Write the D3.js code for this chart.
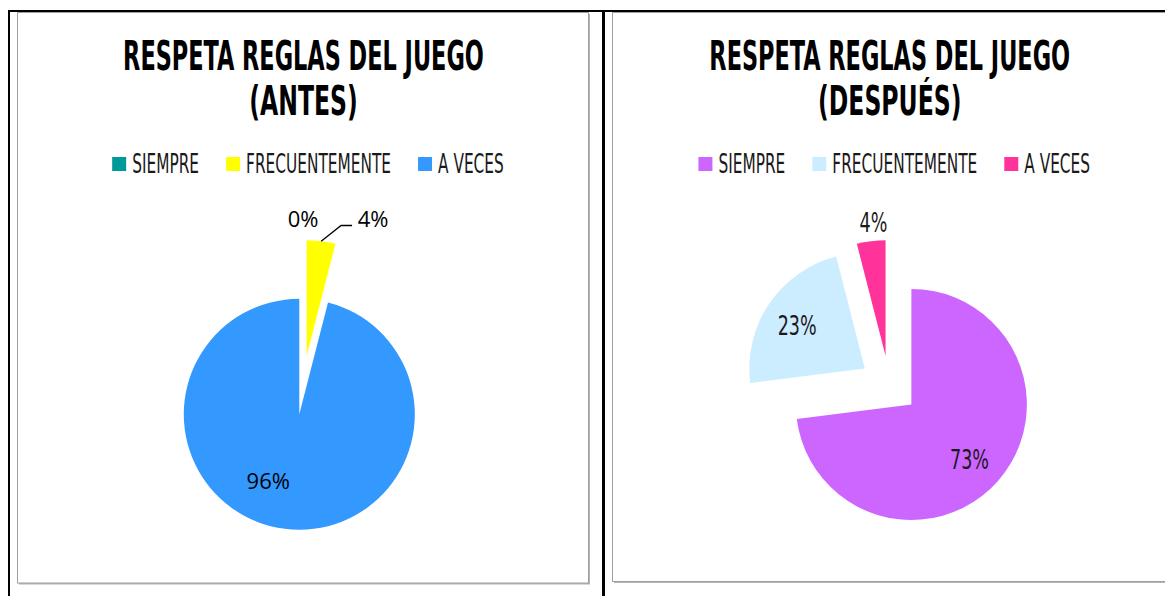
<!DOCTYPE html>
<html>
<head>
<meta charset="utf-8">
<script src="https://cdn.jsdelivr.net/npm/d3@7"></script>
<style>
  body { margin: 0; background: #fff; }
  .narrow { font-family: 'Liberation Sans Narrow', 'DejaVu Sans Condensed', Roboto, sans-serif; }
  .sans { font-family: 'Open Sans', 'Noto Sans', sans-serif; }
</style>
</head>
<body>
<script>
// data
const categories = ['SIEMPRE', 'FRECUENTEMENTE', 'A VECES'];
const antesValues = [0, 4, 96];
const despuesValues = [73, 23, 4];
const antesColors = ['#009999', '#FFFF00', '#3399FF'];
const despuesColors = ['#CC66FF', '#CCECFF', '#FF3399'];
const titleText = 'RESPETA REGLAS DEL JUEGO';
const antesSubtitle = '(ANTES)';
const despuesSubtitle = '(DESPUÉS)';

const width = 1165, height = 596;
const R = 115.5, explode = 29.5, pieY = 385;

const svg = d3.select('body').append('svg')
  .attr('width', width).attr('height', height);

// horizontal squeeze around the text anchor (stand-in for Agency FB)
function squeeze(sel, k) {
  sel.each(function () {
    const t = d3.select(this);
    const x = +t.attr('x'), y = +t.attr('y');
    t.attr('transform', `translate(${x},${y}) scale(${k},1) translate(${-x},${-y})`);
    this.__w = this.getComputedTextLength() * k;
  });
}
// factor that brings a sample string to a given width
function factorFor(cls, size, weight, sample, target) {
  const t = svg.append('text').attr('class', cls).attr('font-size', size)
    .attr('font-weight', weight).text(sample);
  const w = t.node().getComputedTextLength();
  t.remove();
  return target / w;
}
const polar = (a, r) => [r * Math.sin(a), -r * Math.cos(a)];
const deg = Math.PI / 180;

const kTitle = factorFor('narrow', 41, 'bold', titleText, 361);
const kLegend = factorFor('narrow', 26, 'normal', 'FRECUENTEMENTE', 145);
const kLabel = factorFor('narrow', 26, 'normal', '23%', 39);

const panels = [
  { x0: 17.5, x1: 588.5, y1: 583, values: antesValues, colors: antesColors, subtitle: antesSubtitle,
    labelClass: 'sans', labelSize: 22, labelK: 1,
    labelRad: [136, 152, 74], labelShift: [0, 18.7, 17.6], leader: [false, true, false] },
  { x0: 612.5, x1: 1166, y1: 581.5, values: despuesValues, colors: despuesColors, subtitle: despuesSubtitle,
    labelClass: 'narrow', labelSize: 26, labelK: kLabel,
    labelRad: [80, 80, 134], labelShift: [2, -2, 2], leader: [false, false, false] }
];

panels.forEach(p => {
  const cx = (p.x0 + p.x1) / 2;
  const y0 = 12.5;

  // chart box with shadow
  svg.append('rect')
    .attr('x', p.x0 + 1.5).attr('y', y0 + 1.5)
    .attr('width', p.x1 - p.x0).attr('height', p.y1 - y0)
    .attr('fill', '#b4b4b4');
  svg.append('rect')
    .attr('x', p.x0).attr('y', y0)
    .attr('width', p.x1 - p.x0).attr('height', p.y1 - y0)
    .attr('fill', '#fff').attr('stroke', '#a0a0a0').attr('stroke-width', 1);

  // title
  const t1 = svg.append('text').attr('class', 'narrow')
    .attr('x', cx + 0.5).attr('y', 70)
    .attr('text-anchor', 'middle').attr('font-size', 41).attr('font-weight', 'bold')
    .attr('fill', '#000').text(titleText);
  squeeze(t1, kTitle);
  const t2 = svg.append('text').attr('class', 'narrow')
    .attr('x', cx + 0.5).attr('y', 115)
    .attr('text-anchor', 'middle').attr('font-size', 41).attr('font-weight', 'bold')
    .attr('fill', '#000').text(p.subtitle);
  squeeze(t2, kTitle * 1.05);

  // legend
  const items = svg.append('g').selectAll('g').data(categories).enter().append('g');
  items.append('rect').attr('width', 14).attr('height', 14).attr('y', 157)
    .attr('fill', (d, i) => p.colors[i]);
  const lt = items.append('text').attr('class', 'narrow')
    .attr('y', 173).attr('font-size', 26).attr('fill', '#1a1a1a').text(d => d);
  const nat = lt.nodes().map(n => n.getComputedTextLength() * kLegend);
  const widths = nat.map(w => 20 + w);
  const total = d3.sum(widths) + 27 * (widths.length - 1);
  let xx = cx + 5 - total / 2;
  items.each(function (d, i) {
    d3.select(this).select('rect').attr('x', xx);
    d3.select(this).select('text').attr('x', xx + 20);
    xx += widths[i] + 27;
  });
  squeeze(lt, kLegend);

  // pie, every slice pulled out from the centre
  const arcs = d3.pie().sort(null).value(d => d)(p.values);
  const arc = d3.arc().innerRadius(0).outerRadius(R);
  const g = svg.append('g').attr('transform', `translate(${cx},${pieY})`);
  arcs.forEach((d, i) => {
    const mid = (d.startAngle + d.endAngle) / 2;
    const apex = polar(mid, explode);
    if (d.endAngle > d.startAngle) {
      g.append('path')
        .attr('transform', `translate(${apex[0]},${apex[1]})`)
        .attr('d', arc(d))
        .attr('fill', p.colors[i]);
    }
    const lp = polar(mid + p.labelShift[i] * deg, p.labelRad[i]);
    const lx = apex[0] + lp[0], ly = apex[1] + lp[1];
    const lab = g.append('text').attr('class', p.labelClass)
      .attr('x', lx).attr('y', ly).attr('dy', '0.36em')
      .attr('text-anchor', 'middle').attr('font-size', p.labelSize)
      .attr('fill', p.labelClass === 'sans' ? '#000' : '#1a1a1a')
      .text(p.values[i] + '%');
    if (p.labelK !== 1) squeeze(lab, p.labelK);
    if (p.leader[i]) {
      const s = polar(mid, R);
      const sx = apex[0] + s[0], sy = apex[1] + s[1];
      g.append('path')
        .attr('d', d3.line()([[sx, sy], [lx - 32, ly + 6.5], [lx - 21, ly + 6.5]]))
        .attr('fill', 'none').attr('stroke', '#000').attr('stroke-width', 1.3);
    }
  });
});

// table lines
svg.append('line').attr('x1', 8).attr('x2', width).attr('y1', 11).attr('y2', 11)
  .attr('stroke', '#000').attr('stroke-width', 2);
svg.append('line').attr('x1', 9).attr('x2', 9).attr('y1', 10).attr('y2', height)
  .attr('stroke', '#000').attr('stroke-width', 2);
svg.append('line').attr('x1', 603.5).attr('x2', 603.5).attr('y1', 10).attr('y2', height)
  .attr('stroke', '#000').attr('stroke-width', 3);
</script>
</body>
</html>
